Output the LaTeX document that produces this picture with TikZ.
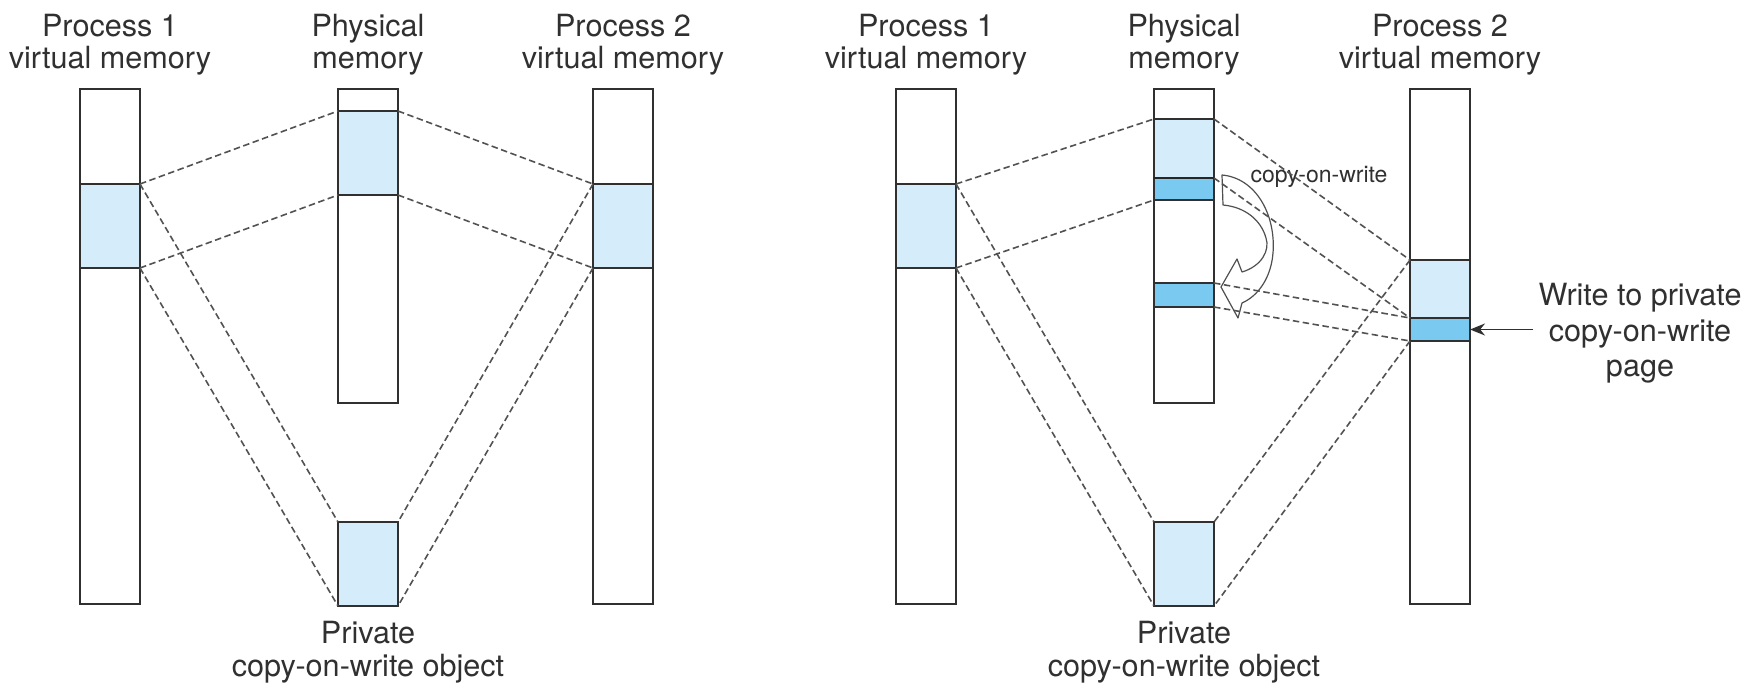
\documentclass[tikz,border=0pt]{standalone}
\usepackage{fontspec}
\setmainfont{TeX Gyre Heros}
\usetikzlibrary{arrows.meta}
\definecolor{pale}{RGB}{213,237,250}
\definecolor{deep}{RGB}{122,201,240}
\definecolor{ink}{RGB}{48,48,48}
\definecolor{linkgray}{RGB}{82,82,82}
\begin{document}
\begin{tikzpicture}[x=1pt,y=-1pt,
  box/.style={draw=ink, line width=1.7pt, fill=white, inner sep=0pt, outer sep=0pt,
              anchor=north west, minimum width=60pt},
  shared/.style={box, fill=pale},
  copied/.style={box, fill=deep},
  link/.style={draw=linkgray, line width=1.6pt, dash pattern=on 6.5pt off 3.5pt},
  title/.style={font=\fontsize{30.6}{34}\selectfont, text=ink, anchor=base, inner sep=0pt},
  small/.style={font=\fontsize{23}{26}\selectfont, text=ink, anchor=base, inner sep=0pt}]
\useasboundingbox (0,0) rectangle (1762,688);

% ---------- before the write ----------
\node[box, minimum height=515pt] (Lp1) at (80,89) {};
\node[shared, minimum height=84pt] (Lp1s) at (80,184) {};
\node[box, minimum height=314pt] (Lph) at (338,89) {};
\node[shared, minimum height=84pt] (Lphs) at (338,111) {};
\node[box, minimum height=515pt] (Lp2) at (593,89) {};
\node[shared, minimum height=84pt] (Lp2s) at (593,184) {};
\node[shared, minimum height=84pt] (Lobj) at (338,522) {};

\draw[link] (Lp1s.north east) -- (Lphs.north west);
\draw[link] (Lp1s.south east) -- (Lphs.south west);
\draw[link] (Lphs.north east) -- (Lp2s.north west);
\draw[link] (Lphs.south east) -- (Lp2s.south west);
\draw[link] (Lp1s.north east) -- (Lobj.north west);
\draw[link] (Lp1s.south east) -- (Lobj.south west);
\draw[link] (Lp2s.north west) -- (Lobj.north east);
\draw[link] (Lp2s.south west) -- (Lobj.south east);

\node[title] (Lt1a) at (110,36) {Process 1};
\node[title] (Lt1b) at (110,68) {virtual memory};
\node[title] (Lt2a) at (368,36) {Physical};
\node[title] (Lt2b) at (368,68) {memory};
\node[title] (Lt3a) at (623,36) {Process 2};
\node[title] (Lt3b) at (623,68) {virtual memory};
\node[title] (Lc1) at (368,643) {Private};
\node[title] (Lc2) at (368,676) {copy-on-write object};

% ---------- after the write ----------
\node[box, minimum height=515pt] (Rp1) at (896,89) {};
\node[shared, minimum height=84pt] (Rp1s) at (896,184) {};
\node[box, minimum height=314pt] (Rph) at (1154,89) {};
\node[shared, minimum height=59pt] (Rphs) at (1154,119) {};
\node[copied, minimum height=22pt] (Rphc) at (1154,178) {};
\node[copied, minimum height=24pt] (Rphn) at (1154,283) {};
\draw[line width=2.8pt, draw=black!85] (Rphc.north west) -- (Rphc.north east);
\node[box, minimum height=515pt] (Rp2) at (1410,89) {};
\node[shared, minimum height=58pt] (Rp2s) at (1410,260) {};
\node[copied, minimum height=23pt] (Rp2c) at (1410,318) {};
\node[shared, minimum height=84pt] (Robj) at (1154,522) {};

% hollow curved arrow: the page is copied
\draw[draw=ink!85, line width=1.2pt, line join=round]
  (1222,175) .. controls (1256,178) and (1276,215) .. (1273,253)
  .. controls (1271,278) and (1258,296) .. (1242,303)
  -- (1238,318) -- (1221,287) -- (1237,259) -- (1242,272)
  .. controls (1262,266) and (1270,250) .. (1266,238)
  .. controls (1261,220) and (1245,207) .. (1223,205) -- cycle;
\node[small] (cow) at (1319,182) {copy-on-write};

\draw[link] (Rp1s.north east) -- (Rphs.north west);
\draw[link] (Rp1s.south east) -- (Rphc.south west);
\draw[link] (Rphs.north east) -- (Rp2s.north west);
\draw[link] (Rphc.north east) -- (Rp2c.north west);
\draw[link] (Rphn.north east) -- (Rp2c.north west);
\draw[link] (Rphn.south east) -- (Rp2c.south west);
\draw[link] (Rp1s.north east) -- (Robj.north west);
\draw[link] (Rp1s.south east) -- (Robj.south west);
\draw[link] (Rp2s.north west) -- (Robj.north east);
\draw[link] (Rp2c.south west) -- (Robj.south east);

\node[title] (Rt1a) at (926,36) {Process 1};
\node[title] (Rt1b) at (926,68) {virtual memory};
\node[title] (Rt2a) at (1184,36) {Physical};
\node[title] (Rt2b) at (1184,68) {memory};
\node[title] (Rt3a) at (1440,36) {Process 2};
\node[title] (Rt3b) at (1440,68) {virtual memory};
\node[title] (Rc1) at (1184,643) {Private};
\node[title] (Rc2) at (1184,676) {copy-on-write object};

\node[title] (w1) at (1640,305) {Write to private};
\node[title] (w2) at (1640,341) {copy-on-write};
\node[title] (w3) at (1640,376) {page};
\coordinate (wtail) at (1533,329.5);
\draw[draw=ink, line width=1.7pt, -{Stealth[length=15pt,width=12pt]}] (wtail) -- (Rp2c.east);
\end{tikzpicture}
\end{document}
